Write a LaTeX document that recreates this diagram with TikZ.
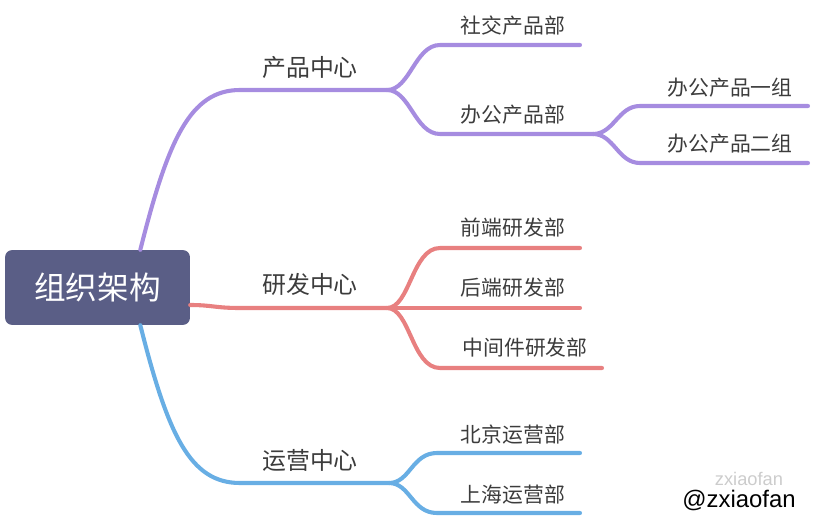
\documentclass[tikz,border=0pt]{standalone}
\usepackage{fontspec}
\setmainfont{Noto Sans CJK SC}
\newfontfamily\wmfont{Liberation Sans}
\usetikzlibrary{positioning}
\definecolor{rootfill}{RGB}{90,94,134}
\definecolor{prodcol}{RGB}{166,140,224}
\definecolor{devcol}{RGB}{232,128,128}
\definecolor{opscol}{RGB}{104,174,228}
\definecolor{txtcol}{RGB}{60,60,60}
\tikzset{
  rootbox/.style={fill=rootfill, rounded corners=5pt, minimum width=4.62cm, minimum height=1.87cm, text=white, font=\fontsize{22.5}{26}\selectfont},
  centre/.style={text=txtcol, font=\fontsize{17}{20}\selectfont, inner sep=0pt},
  dept/.style={text=txtcol, font=\fontsize{14.8}{18}\selectfont, inner sep=0pt},
  prodline/.style={draw=prodcol, line width=2.9pt, line cap=round},
  devline/.style={draw=devcol, line width=2.9pt, line cap=round},
  opsline/.style={draw=opscol, line width=2.9pt, line cap=round},
}

\begin{document}
\begin{tikzpicture}[x=0.025cm, y=-0.025cm]
\useasboundingbox (0,0) rectangle (814,518);

\node[rootbox] (root) at (97.5,287.5) {组织架构};

% first level
\node[centre] (prod) at (310,67) {产品中心};
\node[centre] (dev) at (310,284) {研发中心};
\node[centre] (ops) at (310,460) {运营中心};

\coordinate (prodsplit) at (387,90);
\coordinate (devsplit) at (387,308);
\coordinate (opssplit) at (389,483);

\draw[prodline] ([xshift=1.07cm]root.north) .. controls (168,140) and (190,90) .. (240,90) -- (prodsplit);
\draw[devline] (root.east |- 0,305) .. controls (212,305) and (215,308) .. (240,308) -- (devsplit);
\draw[opsline] ([xshift=1.07cm]root.south) .. controls (168,435) and (190,483) .. (240,483) -- (opssplit);

% product
\node[dept] (social) at (513,26) {社交产品部};
\node[dept] (office) at (513,115) {办公产品部};
\coordinate (officesplit) at (593,134);
\coordinate (socialend) at (580,45);
\node[dept] (office1) at (730,88) {办公产品一组};
\node[dept] (office2) at (730,144) {办公产品二组};
\coordinate (office1end) at (808,106);
\coordinate (office2end) at (808,163);

\draw[prodline] (prodsplit) .. controls (410,90) and (415,45) .. (440,45) -- (socialend);
\draw[prodline] (prodsplit) .. controls (410,90) and (415,134) .. (440,134) -- (officesplit);
\draw[prodline] (officesplit) .. controls (614,134) and (618,106) .. (640,106) -- (office1end);
\draw[prodline] (officesplit) .. controls (614,134) and (618,163) .. (640,163) -- (office2end);

% development
\node[dept] (front) at (513,228) {前端研发部};
\node[dept] (back) at (513,288) {后端研发部};
\node[dept] (middle) at (525,348) {中间件研发部};
\coordinate (frontend) at (580,248);
\coordinate (backend) at (580,308);
\coordinate (middleend) at (602,368);

\draw[devline] (devsplit) .. controls (410,308) and (412,248) .. (440,248) -- (frontend);
\draw[devline] (devsplit) -- (backend);
\draw[devline] (devsplit) .. controls (410,308) and (412,368) .. (440,368) -- (middleend);

% operations
\node[dept] (beijing) at (513,435) {北京运营部};
\node[dept] (shanghai) at (513,495) {上海运营部};
\coordinate (beijingend) at (580,453);
\coordinate (shanghaiend) at (580,513);

\draw[opsline] (opssplit) .. controls (410,483) and (412,453) .. (437,453) -- (beijingend);
\draw[opsline] (opssplit) .. controls (410,483) and (412,513) .. (437,513) -- (shanghaiend);

% watermark
\node[text=black!20, font=\wmfont\fontsize{13}{14}\selectfont, inner sep=0pt] (wmfaint) at (749,479) {zxiaofan};
\node[text=black, font=\wmfont\fontsize{17}{20}\selectfont, inner sep=0pt] (wm) at (739,500) {@zxiaofan};

\end{tikzpicture}
\end{document}
